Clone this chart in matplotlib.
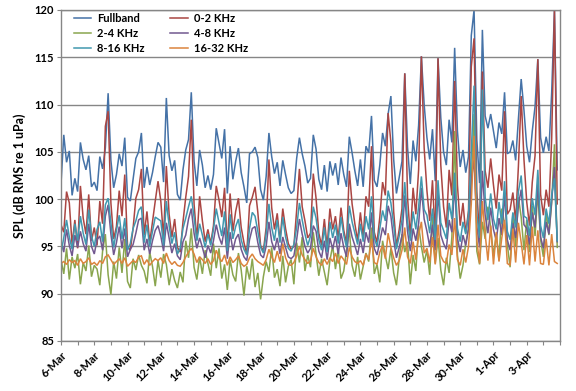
import matplotlib
matplotlib.use("Agg")
import matplotlib.pyplot as plt
import matplotlib.dates as mdates
import pandas as pd
import numpy as np

# ---- data (4-hour samples, 6 per day, 6-Mar .. 4-Apr) ----
fullband = [
    101.6, 106.8, 103.9, 105.1, 100.4, 102.2,
    100.8, 106.0, 104.2, 103.1, 104.6, 101.3,
    101.8, 100.9, 104.5, 103.2, 105.4, 111.2,
    104.1, 101.2, 102.6, 104.8, 103.5, 106.5,
    100.2, 99.8, 102.1, 104.3, 105.0, 107.0,
    101.2, 103.4, 101.5, 102.8, 104.5, 106.0,
    105.5, 101.8, 110.7, 104.6, 103.0, 104.1,
    100.5, 99.9, 103.1, 105.2, 106.3, 111.3,
    104.0, 101.4, 105.2, 103.6, 101.2, 102.5,
    101.0, 102.6, 107.5, 105.9, 104.3, 107.4,
    100.6, 105.6, 102.1, 104.0, 105.4, 102.8,
    101.3, 99.6, 104.8, 105.0, 105.5, 104.4,
    101.0, 99.9, 102.4, 107.0, 104.5, 102.7,
    103.9, 101.4, 104.1, 102.6, 101.2, 100.6,
    100.9, 104.3, 106.5, 104.8, 103.5, 101.7,
    102.2, 106.8, 105.3, 102.1, 101.0, 103.6,
    100.8, 104.0, 102.5, 103.8, 101.5, 104.4,
    102.6, 101.3, 106.6, 104.9, 103.0, 101.4,
    104.2, 101.3, 105.6, 104.9, 108.8, 102.0,
    101.3, 103.6, 107.0, 105.6, 109.0, 110.9,
    104.2, 100.6, 102.3, 104.0, 113.3, 105.5,
    101.6, 106.2, 104.0, 107.8, 115.1, 110.0,
    106.5, 104.2, 107.4, 101.9, 114.9, 108.6,
    105.0, 103.6, 108.4, 106.0, 116.0, 107.2,
    103.4, 105.2, 102.8, 104.5, 117.3, 120.0,
    106.3, 101.7, 117.9, 108.8, 107.5, 109.0,
    107.2, 105.4, 108.1, 106.9, 111.3, 104.8,
    105.0, 106.2, 104.1, 108.5, 112.7, 109.4,
    105.6, 103.9, 107.2, 109.8, 114.8, 106.5,
    104.9, 106.6, 105.1, 111.3, 120.0, 103.1,
]
band_0_2 = [
    97.3, 96.5, 100.8, 99.6, 95.2, 97.8,
    94.8, 101.4, 98.0, 96.3, 100.5, 95.6,
    97.0, 95.1, 99.8, 97.4, 107.7, 109.3,
    99.6, 95.8, 97.1, 100.9, 98.2, 102.6,
    95.0, 94.6, 96.9, 100.1, 101.0, 103.2,
    96.2, 98.7, 95.4, 97.6, 99.8, 101.9,
    99.8, 95.9, 103.5, 98.4, 96.0, 97.9,
    94.9, 94.4, 97.6, 100.2, 102.4, 108.4,
    99.5, 95.7, 100.3, 97.7, 95.5, 96.8,
    95.3, 97.2, 101.4, 99.9, 98.1, 101.2,
    94.8, 100.6, 96.6, 98.7, 100.1, 97.0,
    95.4, 94.2, 99.3, 100.2, 101.3, 98.6,
    95.1, 94.5, 97.0, 104.2, 99.1, 96.8,
    98.5, 95.6, 99.0, 96.9, 95.3, 94.7,
    95.0, 98.8, 103.2, 99.2, 97.7, 95.9,
    96.4, 102.7, 100.1, 96.4, 95.1, 97.9,
    94.9, 99.0, 96.8, 98.2, 95.8, 99.1,
    96.7, 95.3, 103.0, 99.5, 97.4, 95.6,
    98.6, 95.9, 100.3, 99.2, 105.6, 96.5,
    95.4, 98.1, 101.8, 100.4, 109.1, 106.0,
    98.7, 95.0, 96.8, 99.0, 113.3, 100.2,
    96.0, 101.2, 98.4, 103.1, 115.1, 105.4,
    100.9, 97.7, 102.0, 95.8, 114.9, 103.6,
    99.2, 97.0, 103.1, 100.4, 112.5, 101.5,
    97.2, 99.6, 96.4, 98.8, 114.0, 117.0,
    100.8, 96.0, 113.5, 103.0, 101.2, 104.3,
    101.5, 99.0, 102.6, 100.9, 109.3, 98.4,
    98.9, 100.7, 97.6, 103.5, 110.9, 104.2,
    99.7, 97.2, 101.8, 104.6, 114.8, 100.5,
    98.3, 101.0, 99.2, 106.4, 120.0, 99.5,
]
band_2_4 = [
    93.6, 92.1, 94.8, 91.5, 93.9, 92.7,
    94.2, 91.0, 93.3, 92.4, 95.1, 91.8,
    93.0, 92.6, 90.9, 94.5, 96.3, 92.0,
    89.9, 93.4, 91.6, 94.9, 92.2, 95.8,
    91.3, 90.6, 93.7, 92.5, 94.1, 93.0,
    92.4, 91.1, 94.4, 92.9, 90.8, 93.5,
    91.7, 94.2, 93.1, 90.9, 92.6, 91.4,
    90.6, 92.3, 91.2, 95.6, 93.8, 96.9,
    92.8, 91.5, 93.9, 92.1, 94.6, 93.2,
    91.9, 95.3, 92.7, 94.8, 91.6, 93.1,
    90.4, 93.6, 92.0, 91.3, 94.3, 92.5,
    89.8, 92.9, 91.5, 93.7, 90.7, 92.2,
    89.4, 91.8, 93.4, 92.3, 94.9, 91.7,
    92.6, 90.8, 94.0, 91.2, 92.9, 93.6,
    91.0, 95.4, 93.3, 96.0, 92.4, 94.1,
    92.8, 96.5, 94.2, 91.9, 93.7, 92.3,
    90.9, 93.5, 95.1, 92.6, 94.7, 91.6,
    92.4, 94.6, 96.8, 93.0, 91.8, 93.9,
    91.5, 92.9, 94.3, 93.4, 97.0, 92.1,
    93.1, 91.2, 95.6, 94.0, 92.6, 94.8,
    92.2, 90.9, 93.7, 96.3, 94.4, 95.5,
    91.0, 94.1, 92.4, 97.2, 95.0, 93.3,
    94.6, 92.0, 98.1, 93.2, 95.9, 92.5,
    90.9, 93.8, 92.2, 96.0, 107.2, 94.1,
    91.6, 93.0, 95.4, 96.8, 102.0, 109.0,
    94.5, 93.1, 97.6, 95.8, 99.2, 97.0,
    94.0, 96.3, 93.5, 99.0, 97.4, 95.2,
    92.8, 98.5, 95.0, 100.2, 98.1, 94.6,
    97.8, 94.4, 99.3, 96.1, 100.8, 95.7,
    93.9, 98.7, 96.2, 99.6, 105.8, 94.9,
]
band_4_8 = [
    95.6, 94.4, 96.8, 95.1, 94.0, 96.2,
    94.9, 96.6, 95.3, 94.5, 97.4, 95.0,
    94.2, 95.7, 96.1, 94.6, 98.2, 99.4,
    96.3, 94.1, 95.4, 97.1, 94.8, 96.9,
    93.9, 94.7, 95.2, 96.4, 97.8, 98.0,
    94.6, 95.8, 94.2, 95.6, 96.7, 97.2,
    96.1, 94.5, 97.5, 95.9, 94.3, 95.3,
    94.0, 93.6, 95.5, 96.2, 97.9, 99.0,
    96.4, 94.8, 95.9, 94.9, 93.8, 95.1,
    94.3, 95.6, 97.3, 96.0, 95.2, 97.0,
    93.7, 96.5, 94.6, 95.8, 96.3, 94.7,
    93.9, 93.5, 95.7, 96.9, 97.1, 95.4,
    94.1, 93.8, 95.0, 97.6, 95.5, 94.6,
    95.9, 94.2, 96.0, 94.9, 93.9, 93.7,
    94.0, 95.7, 97.9, 96.3, 95.0, 94.3,
    94.8, 97.2, 96.6, 94.5, 93.8, 95.6,
    93.6, 95.9, 94.7, 96.1, 94.2, 96.4,
    94.9, 93.9, 97.4, 96.0, 95.1, 94.1,
    95.8, 94.3, 96.5, 95.4, 98.6, 94.8,
    94.1, 95.5, 97.0, 96.2, 99.3, 98.2,
    95.7, 93.8, 94.9, 96.1, 100.4, 96.6,
    94.5, 96.9, 95.6, 97.4, 101.2, 97.9,
    96.6, 95.0, 97.3, 94.6, 100.9, 96.2,
    95.3, 94.7, 97.8, 96.5, 101.6, 95.9,
    94.4, 96.2, 95.1, 96.9, 102.0, 104.2,
    97.1, 94.9, 103.0, 98.3, 96.4, 99.1,
    96.8, 95.6, 98.0, 96.2, 100.6, 95.7,
    94.6, 97.5, 95.9, 99.4, 101.0, 97.3,
    96.9, 95.2, 98.6, 97.0, 101.7, 96.0,
    94.8, 97.6, 96.3, 99.8, 103.4, 95.5,
]
band_8_16 = [
    94.3, 95.9, 97.8, 96.0, 94.7, 97.4,
    95.6, 98.2, 96.4, 95.2, 98.9, 96.1,
    95.0, 96.8, 97.6, 95.5, 99.4, 100.1,
    97.5, 94.9, 96.7, 98.3, 95.8, 98.0,
    94.6, 95.3, 96.9, 97.7, 98.8, 99.2,
    95.4, 97.3, 95.0, 96.6, 98.1, 97.9,
    97.7, 95.1, 99.8, 97.2, 95.3, 96.5,
    94.2, 94.8, 96.9, 98.0, 99.2, 100.3,
    98.1, 95.6, 97.4, 96.2, 94.9, 96.3,
    95.1, 96.8, 99.0, 97.5, 96.1, 98.7,
    94.5, 98.4, 95.8, 97.1, 97.9, 95.7,
    94.7, 94.1, 96.9, 98.6, 98.2, 96.6,
    94.9, 94.3, 96.3, 99.5, 97.0, 95.6,
    97.8, 95.4, 98.1, 96.0, 94.8, 94.5,
    95.2, 97.0, 99.6, 97.8, 96.3, 95.1,
    96.1, 99.2, 98.0, 95.7, 94.6, 97.0,
    94.4, 97.6, 95.9, 97.3, 95.3, 98.1,
    96.2, 94.9, 99.3, 97.6, 96.4, 95.2,
    97.4, 95.5, 98.2, 96.8, 100.3, 95.9,
    95.0, 96.9, 98.8, 97.7, 100.9, 99.6,
    97.3, 94.7, 96.1, 97.8, 101.8, 97.6,
    95.6, 98.7, 96.8, 99.2, 102.4, 98.9,
    98.3, 96.4, 99.0, 95.7, 102.0, 97.5,
    96.7, 95.8, 99.6, 97.9, 102.8, 96.9,
    95.5, 97.6, 96.3, 98.4, 105.0, 112.0,
    98.4, 95.9, 111.6, 100.2, 97.8, 100.6,
    97.9, 96.8, 99.7, 97.4, 101.9, 96.6,
    95.7, 98.6, 97.0, 100.8, 102.5, 98.2,
    98.0, 96.1, 100.1, 98.3, 103.1, 97.2,
    95.9, 99.0, 97.4, 100.5, 102.2, 95.6,
]
band_16_32 = [
    93.2, 93.4, 93.1, 93.6, 93.3, 93.5,
    93.0, 93.7, 93.2, 93.4, 93.8, 93.1,
    93.3, 93.0, 93.5, 93.2, 93.9, 94.1,
    93.6, 93.1, 93.4, 93.7, 93.2, 93.8,
    92.9, 93.2, 93.5, 93.3, 93.9, 94.0,
    93.1, 93.6, 93.0, 93.4, 93.7, 93.5,
    93.8, 93.2, 94.3, 93.5, 93.1, 93.4,
    93.0, 92.9, 93.3, 93.9, 94.4, 94.8,
    94.2, 93.3, 93.9, 93.6, 93.2, 93.7,
    93.1, 93.5, 94.6, 93.8, 93.4, 94.1,
    93.0, 93.9, 93.3, 93.6, 94.0, 93.2,
    92.9, 93.1, 93.8, 94.2, 93.7, 93.4,
    93.2, 93.0, 93.6, 94.7, 93.9, 93.3,
    94.5, 93.4, 95.3, 93.8, 93.1, 93.0,
    93.3, 94.0, 95.0, 94.1, 93.6, 93.2,
    93.5, 94.8, 93.9, 93.3, 93.0, 93.7,
    93.1, 93.8, 93.4, 94.3, 93.2, 94.0,
    93.6, 93.1, 94.9, 93.9, 93.4, 93.2,
    93.5, 93.0, 94.2, 93.6, 95.8, 93.3,
    93.1, 94.4, 95.1, 93.7, 96.4, 94.9,
    93.8, 93.0, 93.5, 94.6, 97.0, 93.9,
    93.2, 95.5, 93.6, 96.2, 97.6, 94.3,
    94.8, 93.3, 96.0, 93.1, 97.3, 94.0,
    93.4, 93.2, 95.2, 94.1, 98.0, 93.6,
    93.0, 94.7, 93.3, 95.0, 99.5, 106.7,
    95.6, 93.2, 99.8, 96.3, 93.5, 97.2,
    93.1, 96.5, 93.4, 95.9, 97.8, 93.2,
    93.0, 96.9, 93.3, 97.5, 95.4, 93.1,
    96.2, 93.0, 97.1, 93.4, 96.7, 93.2,
    93.1, 95.8, 93.0, 96.3, 93.4, 93.2,
]

series_names = ["Fullband", "0-2 KHz", "2-4 KHz", "4-8 KHz", "8-16 KHz", "16-32 KHz"]
series_values = [fullband, band_0_2, band_2_4, band_4_8, band_8_16, band_16_32]
colors = ["#4572A7", "#AA4643", "#89A54E", "#71588F", "#4198AF", "#DB843D"]

start_date = "2013-03-06"
end_date = "2013-04-05"
y_ticks = [85, 90, 95, 100, 105, 110, 115, 120]

times = pd.date_range(start_date, periods=len(fullband), freq="4h")

plt.rcParams["font.family"] = ["Lato", "DejaVu Sans"]

fig = plt.figure(figsize=(5.76, 3.91), dpi=100)
ax = fig.add_axes([61 / 576, 1 - 341 / 391, 499 / 576, 331 / 391])

handles = []
for name, vals, c in zip(series_names, series_values, colors):
    h, = ax.plot(times, vals, color=c, lw=1.1, label=name, solid_joinstyle="miter")
    handles.append(h)

gray = "#868686"
ax.set_ylim(85, 120)
ax.set_yticks(y_ticks)
ax.set_xlim(pd.Timestamp(start_date), pd.Timestamp(end_date))
ax.grid(axis="y", color=gray, lw=1.0)
ax.set_axisbelow(True)
for s in ax.spines.values():
    s.set_color(gray)
    s.set_linewidth(1.0)

days = pd.date_range(start_date, end_date, freq="D")
ax.set_xticks(days)
labels = []
for i, d in enumerate(days):
    if i % 2 == 0 and d < pd.Timestamp(end_date):
        labels.append(f"{d.day}-{d.strftime('%b')}")
    else:
        labels.append("")
ax.set_xticklabels(labels, rotation=45, ha="right", rotation_mode="anchor",
                   fontsize=8, fontweight="bold")
ax.tick_params(axis="x", length=3, color=gray, pad=3)
ax.tick_params(axis="y", length=3, color=gray, labelsize=8, pad=2)
for t in ax.get_yticklabels():
    t.set_fontweight("bold")

ax.set_ylabel("SPL (dB RMS re 1 uPa)", fontsize=9, fontweight="bold", labelpad=6)

order = [0, 2, 4, 1, 3, 5]
leg = ax.legend([handles[i] for i in order], [series_names[i] for i in order],
                ncol=2, loc="upper left", bbox_to_anchor=(74 / 576, 1 - 13 / 391),
                bbox_transform=fig.transFigure, frameon=False, fontsize=8,
                handlelength=1.55, handletextpad=0.55, columnspacing=2.3,
                labelspacing=0.35, borderpad=0, borderaxespad=0)
for t in leg.get_texts():
    t.set_fontweight("bold")

fig.savefig("out.png", dpi=100)
